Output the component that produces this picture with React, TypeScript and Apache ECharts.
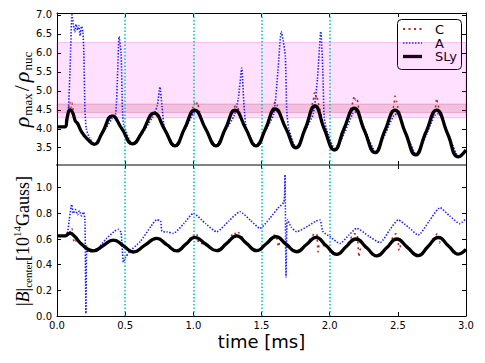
import React, { useEffect, useRef } from 'react';
import * as echarts from 'echarts';

// ---------- data ----------
const xTickValues = [0, 0.5, 1.0, 1.5, 2.0, 2.5, 3.0];
const topTickValues = [3.5, 4.0, 4.5, 5.0, 5.5, 6.0, 6.5, 7.0];
const botTickValues = [0.0, 0.2, 0.4, 0.6, 0.8, 1.0];
const cyanLines = [0.5, 1.0, 1.5, 2.0];
const wideBand = [4.29, 6.27];
const narrowBand = [4.43, 4.65];
const legendNames = ['C', 'A', 'SLy'];

const slyTop: number[][] = [
  [0, 4.05], [0.06, 4.05], [0.075, 4.3], [0.095, 4.5], [0.115, 4.42], [0.135, 4.2], [0.15, 4.15],
  [0.18, 3.92], [0.23, 3.7], [0.274, 3.59], [0.33, 3.88], [0.406, 4.34], [0.474, 4.01], [0.555, 3.6],
  [0.62, 3.88], [0.714, 4.41], [0.79, 3.98], [0.866, 3.55], [0.935, 4.0], [1.01, 4.49], [1.09, 4.0],
  [1.166, 3.55], [1.235, 4.0], [1.306, 4.49], [1.385, 4.0], [1.46, 3.55], [1.53, 4.0], [1.6, 4.52],
  [1.68, 4.0], [1.753, 3.5], [1.82, 4.0], [1.892, 4.6], [1.96, 4.0], [2.035, 3.44], [2.105, 4.0],
  [2.18, 4.54], [2.255, 3.95], [2.333, 3.37], [2.405, 3.95], [2.479, 4.49], [2.555, 3.9], [2.63, 3.31],
  [2.705, 3.9], [2.785, 4.49], [2.865, 3.87], [2.944, 3.26], [3.0, 3.44],
];

const aTop: number[][] = [
  [0, 4.05], [0.06, 4.05], [0.08, 4.3], [0.095, 5.5], [0.11, 7.0], [0.12, 6.75], [0.13, 6.55],
  [0.14, 6.75], [0.15, 6.6], [0.16, 6.72], [0.17, 6.45], [0.18, 6.7], [0.19, 6.55], [0.197, 6.0],
  [0.205, 4.5], [0.215, 4.0], [0.24, 3.75], [0.274, 3.6], [0.33, 3.85], [0.4, 4.25], [0.43, 4.4],
  [0.445, 5.5], [0.455, 6.43], [0.47, 6.0], [0.48, 4.5], [0.49, 4.1], [0.555, 3.58], [0.62, 3.85],
  [0.7, 4.3], [0.735, 4.6], [0.755, 5.1], [0.77, 4.6], [0.79, 4.0], [0.866, 3.55], [0.935, 3.95],
  [1.0, 4.4], [1.03, 4.45], [1.09, 3.98], [1.166, 3.55], [1.235, 3.95], [1.3, 4.35], [1.33, 4.8],
  [1.355, 5.6], [1.37, 4.7], [1.39, 4.0], [1.46, 3.55], [1.53, 3.95], [1.59, 4.4], [1.62, 5.5],
  [1.645, 6.56], [1.66, 6.3], [1.675, 5.9], [1.685, 4.5], [1.7, 4.0], [1.753, 3.5], [1.82, 3.95],
  [1.88, 4.4], [1.91, 5.3], [1.935, 6.56], [1.95, 5.5], [1.96, 4.3], [1.98, 3.95], [2.04, 3.45],
  [2.11, 3.9], [2.17, 4.4], [2.2, 4.45], [2.26, 3.95], [2.34, 3.38], [2.41, 3.88], [2.47, 4.35],
  [2.5, 4.4], [2.56, 3.88], [2.64, 3.3], [2.71, 3.85], [2.77, 4.35], [2.8, 4.4], [2.87, 3.85],
  [2.95, 3.25], [3.0, 3.42],
];

const cTop: number[][] = [
  [0, 4.05], [0.06, 4.05], [0.075, 4.35], [0.088, 4.62], [0.095, 4.7], [0.102, 4.55], [0.11, 4.68],
  [0.12, 4.45], [0.135, 4.22], [0.18, 3.92], [0.23, 3.7], [0.274, 3.59], [0.33, 3.88], [0.406, 4.34],
  [0.474, 4.01], [0.555, 3.6], [0.62, 3.88], [0.714, 4.41], [0.79, 3.98], [0.866, 3.55], [0.935, 4.0],
  [0.995, 4.55], [1.005, 4.68], [1.02, 4.6], [1.03, 4.7], [1.045, 4.45], [1.09, 4.0], [1.166, 3.55],
  [1.235, 4.0], [1.295, 4.55], [1.31, 4.6], [1.325, 4.57], [1.34, 4.4], [1.385, 4.0], [1.46, 3.55],
  [1.53, 4.0], [1.59, 4.6], [1.6, 4.71], [1.615, 4.62], [1.63, 4.49], [1.68, 4.0], [1.753, 3.5],
  [1.82, 4.0], [1.88, 4.75], [1.888, 4.94], [1.897, 4.82], [1.905, 4.88], [1.915, 4.7], [1.93, 4.5],
  [1.96, 4.0], [2.035, 3.44], [2.105, 4.0], [2.17, 4.7], [2.18, 4.86], [2.19, 4.76], [2.2, 4.8],
  [2.21, 4.6], [2.22, 4.4], [2.255, 3.95], [2.333, 3.37], [2.405, 3.95], [2.47, 4.6], [2.479, 4.86],
  [2.49, 4.72], [2.5, 4.57], [2.52, 4.35], [2.555, 3.9], [2.63, 3.31], [2.705, 3.9], [2.775, 4.55],
  [2.785, 4.8], [2.795, 4.62], [2.81, 4.45], [2.865, 3.87], [2.944, 3.26], [3.0, 3.44],
];

const slyBot: number[][] = [
  [0, 0.624], [0.06, 0.625], [0.095, 0.645], [0.13, 0.62], [0.18, 0.56], [0.266, 0.507], [0.34, 0.55],
  [0.413, 0.592], [0.49, 0.545], [0.56, 0.499], [0.645, 0.552], [0.731, 0.605], [0.805, 0.556],
  [0.878, 0.507], [0.945, 0.56], [1.012, 0.613], [1.09, 0.561], [1.171, 0.509], [1.245, 0.566],
  [1.318, 0.624], [1.39, 0.566], [1.465, 0.509], [1.535, 0.563], [1.606, 0.618], [1.68, 0.56],
  [1.758, 0.501], [1.83, 0.557], [1.9, 0.613], [1.975, 0.547], [2.052, 0.481], [2.12, 0.54],
  [2.193, 0.6], [2.27, 0.534], [2.345, 0.468], [2.42, 0.534], [2.492, 0.6], [2.57, 0.535],
  [2.65, 0.47], [2.72, 0.54], [2.797, 0.613], [2.87, 0.548], [2.944, 0.483], [3.0, 0.52],
];

const aBot: number[][] = [
  [0, 0.62], [0.07, 0.63], [0.09, 0.75], [0.108, 0.87], [0.12, 0.8], [0.135, 0.83], [0.15, 0.79],
  [0.165, 0.82], [0.18, 0.78], [0.195, 0.81], [0.205, 0.75], [0.212, 0.02], [0.218, 0.55],
  [0.23, 0.5], [0.26, 0.51], [0.3, 0.53], [0.36, 0.6], [0.42, 0.66], [0.45, 0.675], [0.47, 0.65],
  [0.487, 0.42], [0.5, 0.45], [0.53, 0.5], [0.61, 0.58], [0.69, 0.7], [0.731, 0.75], [0.76, 0.74],
  [0.77, 0.66], [0.81, 0.655], [0.853, 0.644], [0.93, 0.72], [1.0, 0.8], [1.09, 0.72], [1.171, 0.657],
  [1.26, 0.74], [1.342, 0.813], [1.42, 0.745], [1.489, 0.683], [1.56, 0.76], [1.62, 0.84],
  [1.665, 0.89], [1.672, 1.1], [1.68, 0.3], [1.69, 0.75], [1.72, 0.69], [1.758, 0.657], [1.84, 0.7],
  [1.9, 0.74], [1.929, 0.748], [1.95, 0.66], [2.0, 0.62], [2.076, 0.566], [2.14, 0.63], [2.198, 0.683],
  [2.29, 0.62], [2.37, 0.572], [2.44, 0.67], [2.503, 0.748], [2.58, 0.69], [2.65, 0.631], [2.73, 0.74],
  [2.81, 0.844], [2.88, 0.78], [2.956, 0.72], [3.0, 0.76],
];

const cBot: number[][] = [
  [0, 0.624], [0.06, 0.625], [0.09, 0.67], [0.1, 0.65], [0.11, 0.68], [0.12, 0.6], [0.13, 0.57],
  [0.15, 0.6], [0.18, 0.56], [0.266, 0.507], [0.34, 0.55], [0.413, 0.592], [0.49, 0.545], [0.56, 0.499],
  [0.645, 0.552], [0.731, 0.605], [0.805, 0.556], [0.878, 0.507], [0.945, 0.56], [1.0, 0.63],
  [1.012, 0.6], [1.025, 0.64], [1.04, 0.57], [1.09, 0.561], [1.171, 0.509], [1.245, 0.566], [1.3, 0.65],
  [1.318, 0.63], [1.33, 0.65], [1.39, 0.566], [1.465, 0.509], [1.535, 0.563], [1.59, 0.63],
  [1.606, 0.63], [1.625, 0.54], [1.64, 0.6], [1.68, 0.56], [1.758, 0.501], [1.83, 0.557], [1.89, 0.64],
  [1.905, 0.64], [1.915, 0.5], [1.925, 0.55], [1.975, 0.547], [2.052, 0.481], [2.12, 0.54],
  [2.18, 0.64], [2.2, 0.64], [2.215, 0.46], [2.225, 0.52], [2.27, 0.534], [2.345, 0.468], [2.42, 0.534],
  [2.485, 0.64], [2.5, 0.6], [2.51, 0.51], [2.53, 0.58], [2.57, 0.535], [2.65, 0.47], [2.72, 0.54],
  [2.79, 0.64], [2.805, 0.57], [2.82, 0.6], [2.87, 0.548], [2.944, 0.483], [3.0, 0.52],
];

// ---------- styles ----------
const SANS = 'DejaVu Sans';
const SERIF = 'Liberation Serif';
const C_COLOR = '#b22a2a';
const A_COLOR = '#1a1aff';
const CYAN = '#00bfbf';
const GRAY = '#808080';
const C_DASH = [2, 3.5];
const A_DASH = [1.4, 1.6];

const fmt1 = (v: number) => v.toFixed(1);

function xAxisDef(gridIndex: number, position: 'top' | 'bottom', lineColor: string, lineWidth: number, labels: boolean, extra: any = {}) {
  return {
    type: 'value', gridIndex, position, min: xTickValues[0], max: xTickValues[xTickValues.length - 1], interval: 0.5,
    axisLine: { show: true, onZero: false, lineStyle: { color: lineColor, width: lineWidth } },
    axisTick: { show: true, inside: true, length: 4, lineStyle: { color: '#000', width: 1 } },
    axisLabel: { show: labels, formatter: fmt1, fontFamily: SANS, fontSize: 10, color: '#000', margin: 4 },
    splitLine: { show: false },
    ...extra,
  };
}

function yAxisDef(gridIndex: number, position: 'left' | 'right', min: number, max: number, ticks: number[], labels: boolean) {
  return {
    type: 'value', gridIndex, position, min, max,
    axisLine: { show: true, onZero: false, lineStyle: { color: '#000', width: 1 } },
    axisTick: { show: true, inside: true, length: 4, customValues: ticks, lineStyle: { color: '#000', width: 1 } },
    axisLabel: { show: labels, customValues: ticks, formatter: fmt1, fontFamily: SANS, fontSize: 10, color: '#000', margin: 5 },
    splitLine: { show: false },
  };
}

const cyanMarkLine = {
  silent: true, symbol: 'none', label: { show: false },
  lineStyle: { color: CYAN, type: [1.5, 2], width: 1.5 },
  data: cyanLines.map((v) => ({ xAxis: v })),
};

function lineSeries(name: string, data: number[][], xi: number, yi: number) {
  const base: any = {
    name, type: 'line', data, xAxisIndex: xi, yAxisIndex: yi, showSymbol: false, symbol: 'none',
    clip: true, silent: true,
  };
  if (name === 'C') {
    base.lineStyle = { color: C_COLOR, width: 1.6, type: C_DASH };
    base.smooth = 0.2;
    base.z = 3;
  } else if (name === 'A') {
    base.lineStyle = { color: A_COLOR, width: 1.6, type: A_DASH };
    base.smooth = 0.2;
    base.z = 4;
  } else {
    base.lineStyle = { color: '#000', width: 3.3 };
    base.smooth = 0.5;
    base.z = 5;
  }
  return base;
}

// legend drawn as graphics (box, samples, real text labels)
const legendBox = { x: 397, y: 19, w: 64, h: 50 };
const legendRows = [29, 43, 56.5];
const legendGraphic = {
  type: 'group', z: 100,
  children: [
    { type: 'rect', shape: { x: legendBox.x + 0.5, y: legendBox.y + 0.5, width: legendBox.w, height: legendBox.h, r: 4 }, style: { fill: '#fff', stroke: '#000', lineWidth: 1 } },
    { type: 'line', shape: { x1: 403, y1: legendRows[0], x2: 422, y2: legendRows[0] }, style: { stroke: C_COLOR, lineWidth: 2, lineDash: C_DASH } },
    { type: 'line', shape: { x1: 403, y1: legendRows[1], x2: 422, y2: legendRows[1] }, style: { stroke: A_COLOR, lineWidth: 1.6, lineDash: A_DASH } },
    { type: 'line', shape: { x1: 403, y1: legendRows[2], x2: 422, y2: legendRows[2] }, style: { stroke: '#000', lineWidth: 3.3 } },
    ...legendNames.map((n, i) => ({
      type: 'text', x: 435, y: legendRows[i],
      style: { text: n, fontFamily: SANS, fontSize: 13, fill: '#000', verticalAlign: 'middle', align: 'left' },
    })),
  ],
};

const option: any = {
  animation: false,
  backgroundColor: '#fff',
  grid: [
    { left: 57, top: 13, width: 409, height: 152 },
    { left: 57, top: 165, width: 409, height: 151 },
  ],
  xAxis: [
    xAxisDef(0, 'bottom', GRAY, 2, false),
    xAxisDef(0, 'top', '#000', 1, false),
    xAxisDef(1, 'bottom', '#000', 1, true, {
      name: 'time [ms]', nameLocation: 'middle', nameGap: 16,
      nameTextStyle: { fontFamily: SANS, fontSize: 18, color: '#000', verticalAlign: 'top' },
    }),
    xAxisDef(1, 'top', GRAY, 2, false),
  ],
  yAxis: [
    yAxisDef(0, 'left', 3.045, 7.05, topTickValues, true),
    yAxisDef(0, 'right', 3.045, 7.05, topTickValues, false),
    yAxisDef(1, 'left', 0, 1.177, botTickValues, true),
    yAxisDef(1, 'right', 0, 1.177, botTickValues, false),
  ],
  series: [
    {
      type: 'line', name: 'bands', data: [[0, 4]], xAxisIndex: 0, yAxisIndex: 0, showSymbol: false,
      symbol: 'none', lineStyle: { opacity: 0 }, silent: true, z: 1,
      markArea: {
        silent: true, z: 1,
        data: [
          [{ yAxis: wideBand[0], itemStyle: { color: 'rgba(255,0,255,0.12)', borderColor: 'rgba(220,0,220,0.22)', borderWidth: 1 } }, { yAxis: wideBand[1] }],
          [{ yAxis: narrowBand[0], itemStyle: { color: 'rgba(180,0,40,0.14)', borderColor: 'rgba(180,0,40,0.2)', borderWidth: 1 } }, { yAxis: narrowBand[1] }],
        ],
      },
      markLine: cyanMarkLine,
    },
    {
      type: 'line', name: 'vlines', data: [[0, 0.5]], xAxisIndex: 2, yAxisIndex: 2, showSymbol: false,
      symbol: 'none', lineStyle: { opacity: 0 }, silent: true, z: 1,
      markLine: cyanMarkLine,
    },
    lineSeries('C', cTop, 0, 0),
    lineSeries('A', aTop, 0, 0),
    lineSeries('SLy', slyTop, 0, 0),
    lineSeries('C', cBot, 2, 2),
    lineSeries('A', aBot, 2, 2),
    lineSeries('SLy', slyBot, 2, 2),
  ],
  graphic: [
    legendGraphic,
    {
      type: 'text', x: 21.5, y: 90, rotation: Math.PI / 2,
      style: {
        text: '{i|ρ}{s|max}{r|/}{i|ρ}{s|nuc}',
        align: 'center', verticalAlign: 'middle',
        rich: {
          i: { fontFamily: SERIF, fontStyle: 'italic', fontSize: 22, lineHeight: 24, fill: '#000', padding: [0, 1, 0, 1] },
          r: { fontFamily: SERIF, fontSize: 22, lineHeight: 24, fill: '#000', padding: [0, 2, 0, 2] },
          s: { fontFamily: SERIF, fontSize: 13, lineHeight: 13, verticalAlign: 'bottom', fill: '#000' },
        },
      },
    },
    {
      type: 'text', x: 22.5, y: 241, rotation: Math.PI / 2,
      style: {
        text: '{r||}{i|B}{r||}{s|center}{r|[10}{p|14}{r|Gauss]}',
        align: 'center', verticalAlign: 'middle',
        rich: {
          i: { fontFamily: SERIF, fontStyle: 'italic', fontSize: 18, lineHeight: 22, fill: '#000' },
          r: { fontFamily: SERIF, fontSize: 18, lineHeight: 22, fill: '#000' },
          s: { fontFamily: SERIF, fontSize: 11, lineHeight: 11, verticalAlign: 'bottom', fill: '#000' },
          p: { fontFamily: SERIF, fontSize: 11, lineHeight: 14, verticalAlign: 'top', fill: '#000' },
        },
      },
    },
  ],
};

export default function App() {
  const ref = useRef<HTMLDivElement>(null);
  useEffect(() => {
    const chart = echarts.init(ref.current!, null, { renderer: 'svg' });
    chart.setOption(option);
    return () => chart.dispose();
  }, []);
  return (
    <div
      ref={ref}
      style={{ position: 'fixed', left: 0, top: 0, width: 485, height: 363, background: '#fff' }}
    />
  );
}
